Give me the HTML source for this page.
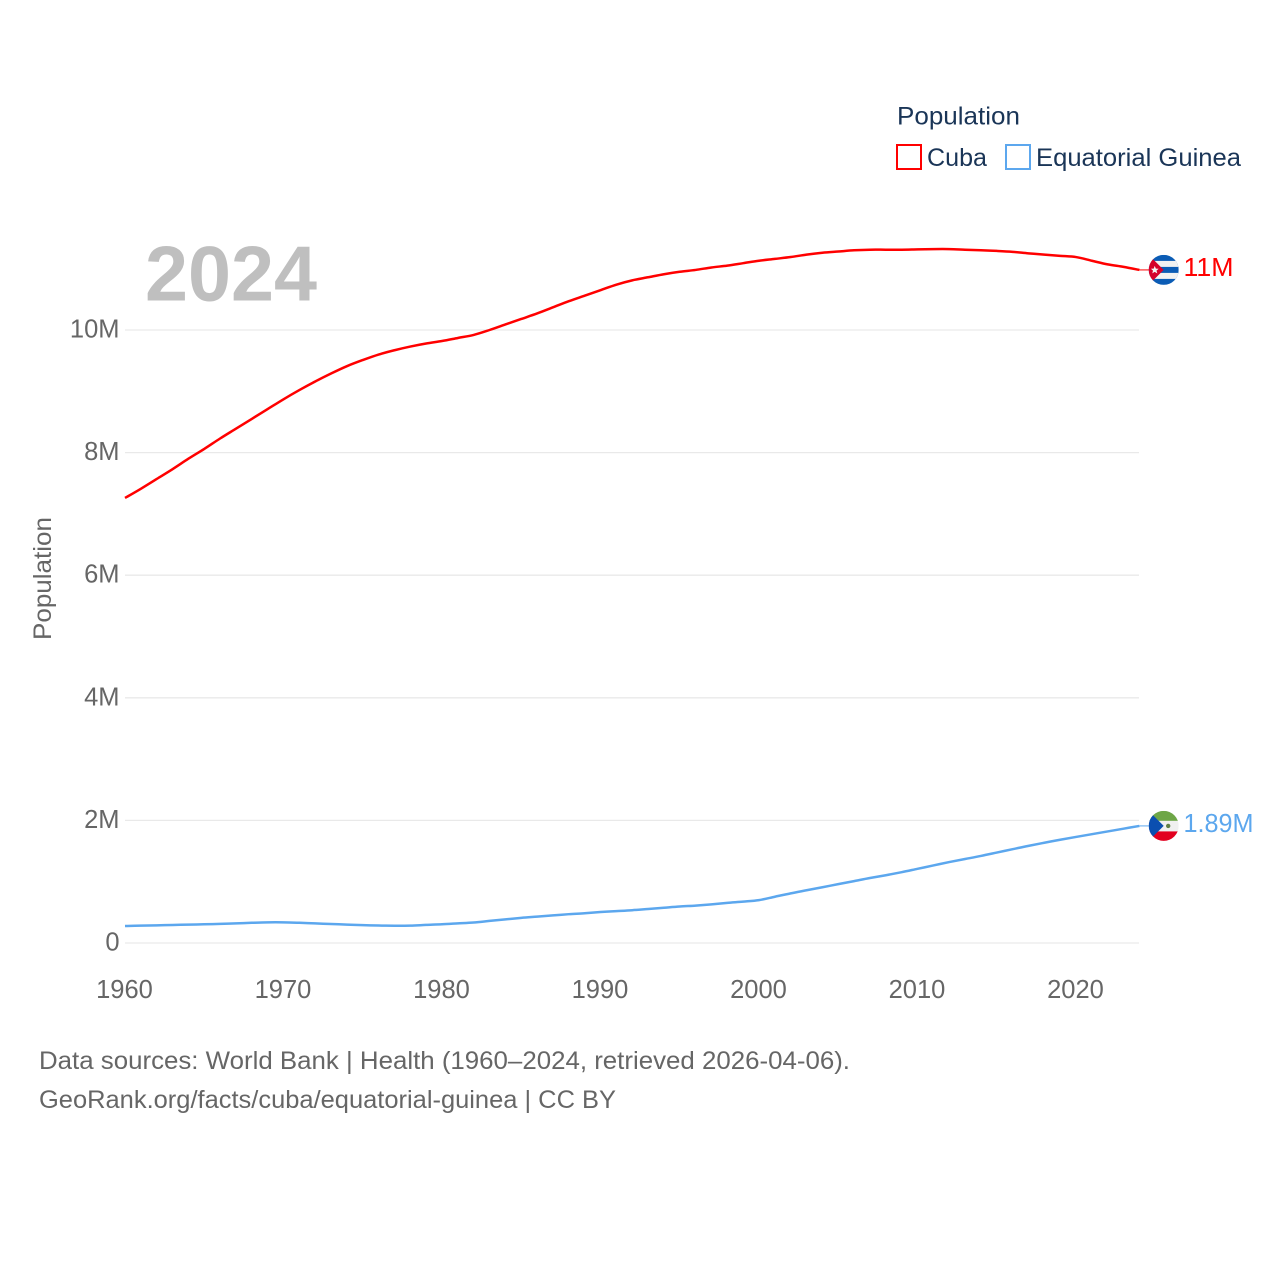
<!DOCTYPE html>
<html lang="en">
<head>
<meta charset="utf-8">
<title>Population: Cuba and Equatorial Guinea</title>
<style>
html,body{margin:0;padding:0;background:#fff;width:1280px;height:1280px;overflow:hidden}
svg{display:block}
text{font-family:"Liberation Sans",sans-serif}
</style>
</head>
<body>
<svg id="chart" xmlns="http://www.w3.org/2000/svg" width="1280" height="1280" viewBox="0 0 1280 1280">
  <defs>
    <clipPath id="flag-clip-cuba"><circle cx="0" cy="0" r="15"/></clipPath>
    <clipPath id="flag-clip-gq"><circle cx="0" cy="0" r="15"/></clipPath>
  </defs>
  <g id="grid"></g>
  <g id="y-ticks"></g>
  <g id="x-ticks"></g>
  <text x="145" y="300.5" font-size="78" font-weight="700" fill="#bfbfbf" textLength="172" lengthAdjust="spacingAndGlyphs">2024</text>
  <text transform="translate(51,640) rotate(-90)" font-size="25" fill="#666" textLength="123" lengthAdjust="spacingAndGlyphs">Population</text>
  <g id="series"></g>
  <g id="flag-cuba">
    <g clip-path="url(#flag-clip-cuba)">
      <rect x="-15" y="-15" width="30" height="30" fill="#0b5cb5"/>
      <rect x="-15" y="-9" width="30" height="6" fill="#f2f2f2"/>
      <rect x="-15" y="3" width="30" height="6" fill="#f2f2f2"/>
      <polygon points="-15,-15 0,0 -15,15" fill="#d5002b"/>
      <polygon points="-9,-4 -7.8,-1.3 -5,-1.2 -7.2,0.7 -6.4,3.5 -9,2 -11.4,3.5 -10.7,0.7 -12.8,-1.2 -10,-1.3" fill="#f4f4f4"/>
    </g>
  </g>
  <g id="flag-gq">
    <g clip-path="url(#flag-clip-gq)">
      <rect x="-15" y="-15" width="30" height="10" fill="#6ea647"/>
      <rect x="-15" y="-5" width="30" height="10.5" fill="#f0f0f0"/>
      <rect x="-15" y="5.5" width="30" height="10" fill="#e2001f"/>
      <polygon points="-15,-15 0,0 -15,15" fill="#0b4fb0"/>
      <circle cx="4.5" cy="0" r="2.2" fill="#5f7f45"/>
    </g>
  </g>
  <g id="end-labels"></g>
  <text x="897" y="124.5" font-size="25" fill="#1a3557" textLength="123" lengthAdjust="spacingAndGlyphs">Population</text>
  <g>
    <rect x="897" y="145" width="24" height="24" fill="#fff" stroke="#ff0000" stroke-width="2"/>
    <text x="927" y="166" font-size="25" fill="#1a3557" textLength="60" lengthAdjust="spacingAndGlyphs">Cuba</text>
  </g>
  <g>
    <rect x="1006" y="145" width="24" height="24" fill="#fff" stroke="#5ca7ee" stroke-width="2"/>
    <text x="1036" y="166" font-size="25" fill="#1a3557" textLength="205" lengthAdjust="spacingAndGlyphs">Equatorial Guinea</text>
  </g>
  <text x="39" y="1069" font-size="25" fill="#666" textLength="811" lengthAdjust="spacingAndGlyphs">Data sources: World Bank | Health (1960–2024, retrieved 2026-04-06).</text>
  <text x="39" y="1108" font-size="25" fill="#666" textLength="577" lengthAdjust="spacingAndGlyphs">GeoRank.org/facts/cuba/equatorial-guinea | CC BY</text>
</svg>
<script>
const years = [1960,1961,1962,1963,1964,1965,1966,1967,1968,1969,1970,1971,1972,1973,1974,1975,1976,1977,1978,1979,1980,1981,1982,1983,1984,1985,1986,1987,1988,1989,1990,1991,1992,1993,1994,1995,1996,1997,1998,1999,2000,2001,2002,2003,2004,2005,2006,2007,2008,2009,2010,2011,2012,2013,2014,2015,2016,2017,2018,2019,2020,2021,2022,2023,2024];
const cubaValues = [7.26,7.41,7.57,7.73,7.90,8.06,8.23,8.39,8.55,8.71,8.87,9.02,9.16,9.29,9.41,9.51,9.60,9.67,9.73,9.78,9.82,9.87,9.92,10.00,10.09,10.18,10.27,10.37,10.47,10.56,10.65,10.74,10.81,10.86,10.91,10.95,10.98,11.02,11.05,11.09,11.13,11.16,11.19,11.23,11.26,11.28,11.30,11.31,11.31,11.31,11.315,11.32,11.32,11.31,11.30,11.29,11.275,11.25,11.23,11.21,11.19,11.13,11.07,11.03,10.98];
const guineaValues = [0.277,0.283,0.288,0.294,0.30,0.305,0.312,0.32,0.33,0.337,0.337,0.33,0.32,0.31,0.30,0.292,0.285,0.282,0.284,0.295,0.305,0.32,0.335,0.36,0.385,0.41,0.43,0.45,0.47,0.485,0.505,0.52,0.535,0.555,0.575,0.595,0.61,0.63,0.655,0.675,0.70,0.755,0.81,0.86,0.91,0.96,1.01,1.06,1.105,1.155,1.21,1.265,1.32,1.37,1.42,1.475,1.53,1.585,1.635,1.685,1.73,1.775,1.82,1.865,1.91];
const yTickValues = [0,2,4,6,8,10];
const yTickLabels = ["0","2M","4M","6M","8M","10M"];
const xTickYears = [1960,1970,1980,1990,2000,2010,2020];
const endLabelCuba = "11M";
const endLabelGuinea = "1.89M";

const NS = "http://www.w3.org/2000/svg";
const xScale = function (yr) { return 125 + (yr - 1960) * 15.85; };
const yScale = function (v) { return 943 - v * 61.3; };

function make(tag, attrs, text) {
  const el = document.createElementNS(NS, tag);
  Object.keys(attrs).forEach(function (k) { el.setAttribute(k, attrs[k]); });
  if (text !== undefined) el.textContent = text;
  return el;
}

function smoothPath(px, py) {
  let d = "M" + px[0].toFixed(2) + "," + py[0].toFixed(2);
  for (let i = 0; i < px.length - 1; i++) {
    const i0 = Math.max(i - 1, 0);
    const i3 = Math.min(i + 2, px.length - 1);
    const c1x = px[i] + (px[i + 1] - px[i0]) / 6;
    const c1y = py[i] + (py[i + 1] - py[i0]) / 6;
    const c2x = px[i + 1] - (px[i3] - px[i]) / 6;
    const c2y = py[i + 1] - (py[i3] - py[i]) / 6;
    d += "C" + c1x.toFixed(2) + "," + c1y.toFixed(2) + " " + c2x.toFixed(2) + "," + c2y.toFixed(2) + " " + px[i + 1].toFixed(2) + "," + py[i + 1].toFixed(2);
  }
  return d;
}

const gridGroup = document.getElementById("grid");
const yGroup = document.getElementById("y-ticks");
const xGroup = document.getElementById("x-ticks");
const seriesGroup = document.getElementById("series");
const labelGroup = document.getElementById("end-labels");

yTickValues.forEach(function (v, i) {
  const y = yScale(v);
  const line = make("line", { x1: 125, x2: 1139, y1: y, y2: y, stroke: "#e9e9e9", "stroke-width": 1.3 });
  
  
  gridGroup.appendChild(line);
  const label = make("text", { x: 119.5, y: y + 7.5, "text-anchor": "end", "font-size": 25.5, fill: "#666" }, yTickLabels[i]);
  
  
  yGroup.appendChild(label);
});

xTickYears.forEach(function (yr) {
  const label = make("text", { x: xScale(yr) - 0.5, y: 998, "text-anchor": "middle", "font-size": 25.5, fill: "#666" }, String(yr));
  
  
  xGroup.appendChild(label);
});

function drawSeries(values, color, name, flagId, endText, labelWidth) {
  const px = values.map(function (v, i) { return xScale(years[i]); });
  const py = values.map(function (v) { return yScale(v); });
  const path = make("path", { d: smoothPath(px, py), fill: "none", stroke: color, "stroke-width": 2.5, "stroke-linejoin": "round" });
  
  
  seriesGroup.appendChild(path);

  const lastY = py[py.length - 1];
  const lastX = px[px.length - 1];
  const leader = make("line", { x1: lastX, x2: 1149, y1: lastY, y2: lastY, stroke: color, "stroke-width": 1 });
  
  
  seriesGroup.appendChild(leader);

  document.getElementById(flagId).setAttribute("transform", "translate(1163.7," + lastY.toFixed(1) + ")");

  const endLabel = make("text", { x: 1183.5, y: lastY + 6.3, "font-size": 26, fill: color, textLength: labelWidth, lengthAdjust: "spacingAndGlyphs" }, endText);
  
  
  labelGroup.appendChild(endLabel);
}

drawSeries(cubaValues, "#ff0000", "cuba-line", "flag-cuba", endLabelCuba, 50);
drawSeries(guineaValues, "#5ca7ee", "equatorial-guinea-line", "flag-gq", endLabelGuinea, 70);
</script>
</body>
</html>
